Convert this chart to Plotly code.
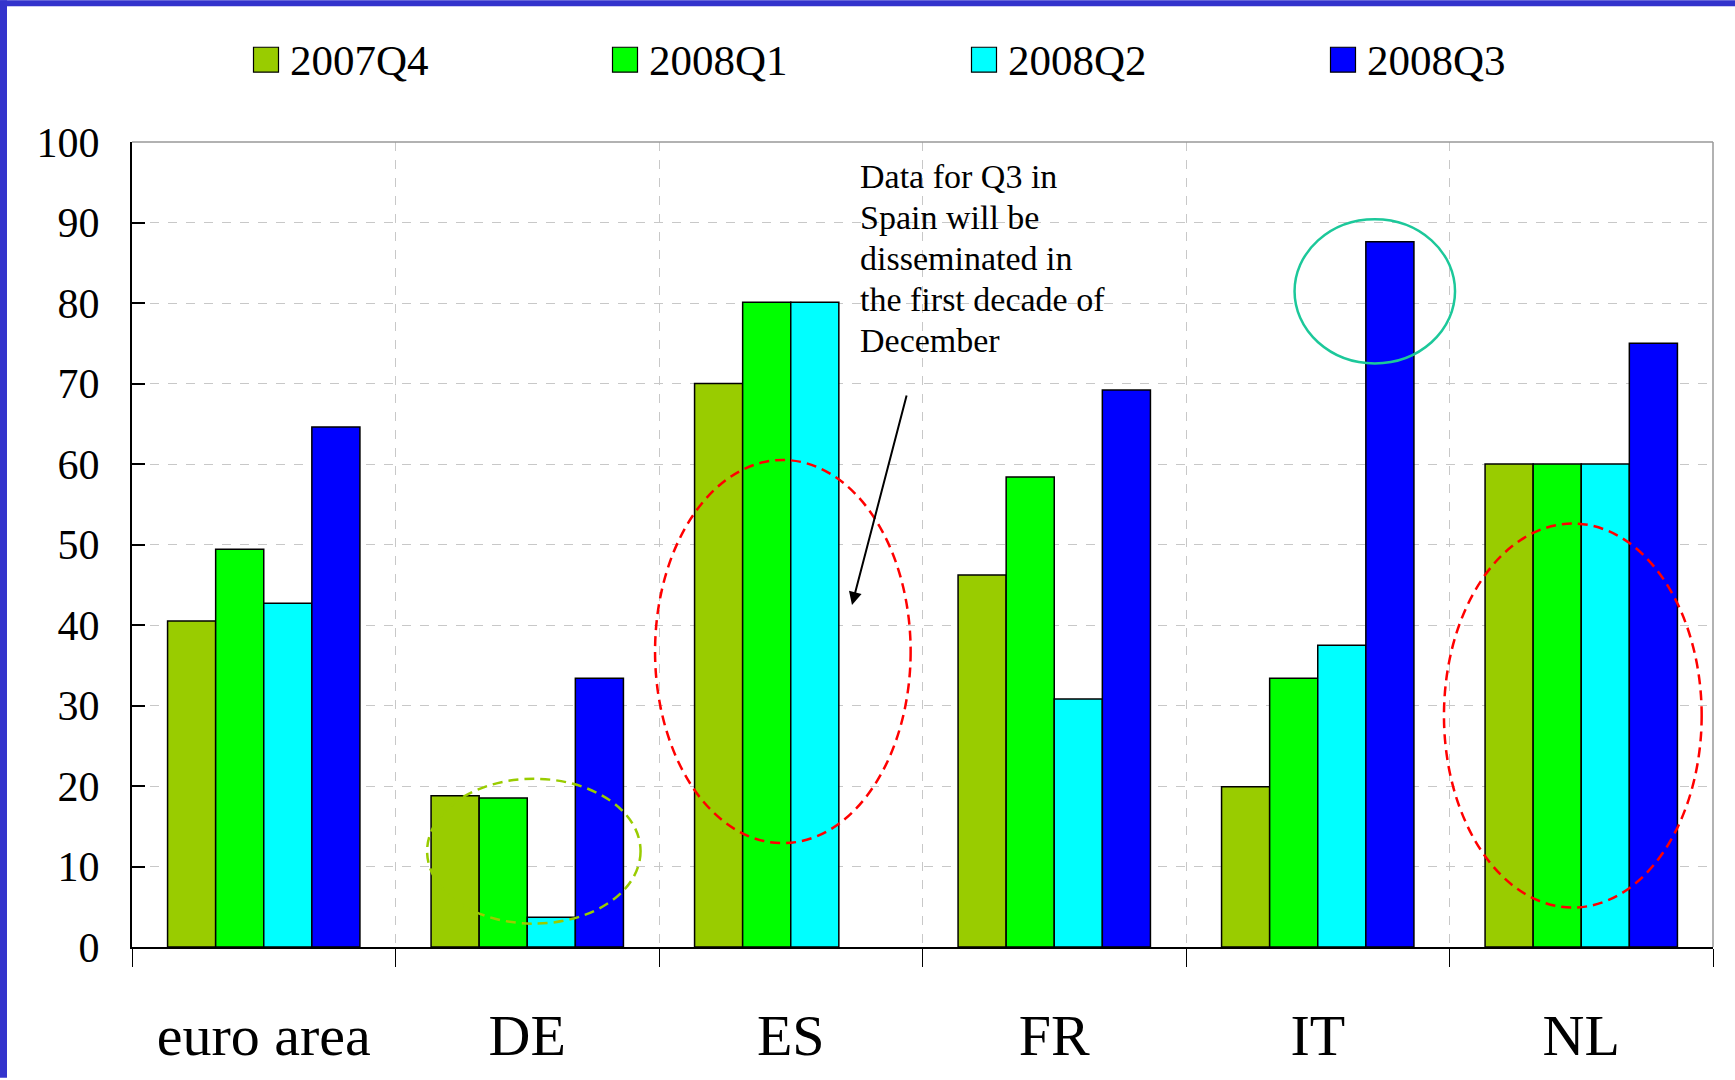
import plotly.graph_objects as go

categories = ["euro area", "DE", "ES", "FR", "IT", "NL"]
series_names = ["2007Q4", "2008Q1", "2008Q2", "2008Q3"]
q4_2007 = [40.5, 18.8, 70.0, 46.2, 19.9, 60.0]
q1_2008 = [49.4, 18.5, 80.1, 58.4, 33.4, 60.0]
q2_2008 = [42.7, 3.7, 80.1, 30.8, 37.5, 60.0]
q3_2008 = [64.6, 33.4, None, 69.2, 87.6, 75.0]
series_values = [q4_2007, q1_2008, q2_2008, q3_2008]
colors = ["#99CC00", "#00FF00", "#00FFFF", "#0000FF"]
y_ticks = list(range(0, 101, 10))
note_lines = ["Data for Q3 in", "Spain will be", "disseminated in",
              "the first decade of", "December"]

FIG_W, FIG_H = 1735, 1080
L, R, T, B = 132, 22, 142, 131
PW, PH = FIG_W - L - R, FIG_H - T - B
SERIF = "Liberation Serif, Times New Roman, serif"


def px_x(px):
    return (px - L) / PW


def px_y(py):
    return (FIG_H - B - py) / PH


fig = go.Figure()
for name, vals, col in zip(series_names, series_values, colors):
    fig.add_trace(go.Bar(
        x=categories, y=vals, name=name,
        marker=dict(color=col, line=dict(color="black", width=1.5)),
        showlegend=False,
    ))

shapes = []
# blue frame (top and left)
shapes.append(dict(type="rect", xref="paper", yref="paper",
                   x0=px_x(0), x1=px_x(FIG_W), y0=px_y(0), y1=px_y(6),
                   fillcolor="#3333CC", line=dict(width=0), layer="above"))
shapes.append(dict(type="rect", xref="paper", yref="paper",
                   x0=px_x(0), x1=px_x(7), y0=px_y(0), y1=px_y(FIG_H),
                   fillcolor="#3333CC", line=dict(width=0), layer="above"))
# top and right plot borders (grey)
shapes.append(dict(type="line", xref="paper", yref="paper", x0=0, x1=1, y0=1, y1=1,
                   line=dict(color="#999999", width=1.5)))
shapes.append(dict(type="line", xref="paper", yref="paper", x0=1, x1=1, y0=0, y1=1,
                   line=dict(color="#999999", width=1.5)))
# ellipses
shapes.append(dict(type="circle", xref="x", yref="y", x0=0.62, x1=1.43, y0=2.9, y1=20.9,
                   line=dict(color="#99CC00", width=2.5, dash="10px,6px"), layer="above"))
shapes.append(dict(type="circle", xref="x", yref="y", x0=1.485, x1=2.455, y0=12.9, y1=60.5,
                   line=dict(color="#FF0000", width=2.5, dash="10px,6px"), layer="above"))
shapes.append(dict(type="circle", xref="x", yref="y", x0=4.479, x1=5.457, y0=4.9, y1=52.6,
                   line=dict(color="#FF0000", width=2.5, dash="10px,6px"), layer="above"))
shapes.append(dict(type="circle", xref="x", yref="y", x0=3.912, x1=4.521, y0=72.5, y1=90.4,
                   line=dict(color="#1CC89A", width=2.5), layer="above"))

annotations = []
# manual legend
for i, (name, col) in enumerate(zip(series_names, colors)):
    left = 253.5 + 359 * i
    shapes.append(dict(type="rect", xref="paper", yref="paper",
                       x0=px_x(left), x1=px_x(left + 25), y0=px_y(47), y1=px_y(72),
                       fillcolor=col, line=dict(color="black", width=1.2)))
    annotations.append(dict(text=name, xref="paper", yref="paper",
                            x=px_x(left + 34), y=px_y(60), xanchor="left", yanchor="middle",
                            showarrow=False, font=dict(family=SERIF, size=43, color="black")))

for j, line in enumerate(note_lines):
    annotations.append(dict(text=line, xref="paper", yref="paper",
                            x=px_x(858), y=px_y(177 + 41 * j), xanchor="left",
                            yanchor="middle", align="left", showarrow=False,
                            font=dict(family=SERIF, size=34, color="black")))
annotations.append(dict(text="", xref="x domain", yref="y", x=px_x(852), y=42.5,
                        axref="x domain", ayref="y", ax=px_x(907), ay=68.7,
                        showarrow=True, arrowhead=2, arrowsize=1.3, arrowwidth=2,
                        arrowcolor="black"))

fig.update_layout(
    width=FIG_W, height=FIG_H,
    margin=dict(l=L, r=R, t=T, b=B, pad=0),
    paper_bgcolor="white", plot_bgcolor="white",
    barmode="group", bargap=0.27, bargroupgap=0,
    shapes=shapes, annotations=annotations,
    showlegend=False,
    font=dict(family=SERIF, color="black"),
)
fig.update_xaxes(
    type="category", tickson="boundaries", ticks="outside", ticklen=18,
    tickcolor="black", tickwidth=1, showline=True, linecolor="black", linewidth=2,
    showgrid=True, gridcolor="#C8C8C8", griddash="dash", gridwidth=1,
    tickfont=dict(family=SERIF, size=58, color="black"), ticklabelstandoff=36,
)
fig.update_yaxes(
    range=[0, 100], tickvals=y_ticks, ticks="inside", ticklen=13, tickcolor="black",
    tickwidth=1.5, showline=True, linecolor="black", linewidth=2, zeroline=False,
    showgrid=True, gridcolor="#C8C8C8", griddash="dash", gridwidth=1,
    tickfont=dict(family=SERIF, size=42, color="black"), ticklabelstandoff=22,
)

fig.write_html("out.html")
